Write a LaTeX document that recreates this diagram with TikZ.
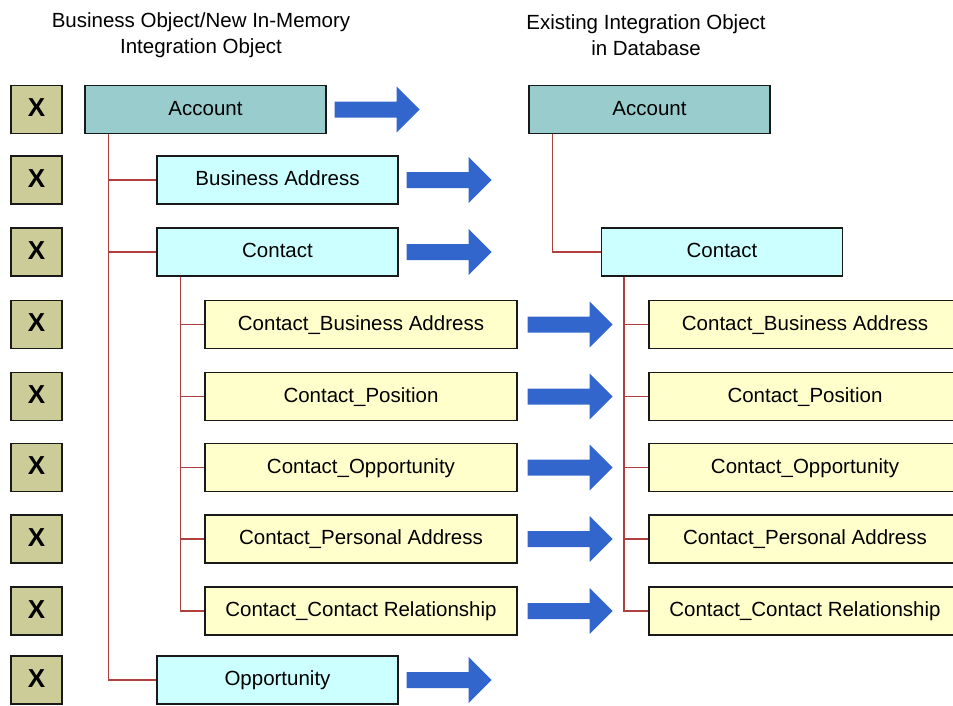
\documentclass[tikz,border=0pt]{standalone}
\usepackage{fontspec}
\setmainfont{Liberation Sans}
\usetikzlibrary{calc}
\definecolor{xfill}{RGB}{204,204,153}
\definecolor{accfill}{RGB}{153,204,204}
\definecolor{cyanfill}{RGB}{204,255,255}
\definecolor{yelfill}{RGB}{255,255,204}
\definecolor{arrblue}{RGB}{51,102,204}
\definecolor{treered}{RGB}{176,64,64}
\newcommand\bigarrow[2]{\fill[arrblue] ($(#1.east)+(#2,-8)$) -- ++(62,0) -- ++(0,-15) -- ++(23,23) -- ++(-23,23) -- ++(0,-15) -- ++(-62,0) -- cycle;}
\begin{document}
\begin{tikzpicture}[x=1pt,y=-1pt,
 box/.style={draw=black!90, line width=1.4pt, minimum height=48pt, inner sep=0pt, text height=16pt, text depth=5pt, font=\fontsize{20.5}{24}\selectfont},
 acc/.style={box, fill=accfill, minimum width=241pt},
 mid/.style={box, fill=cyanfill, minimum width=241pt},
 leaf/.style={box, fill=yelfill, minimum width=312pt},
 xbox/.style={box, fill=xfill, minimum width=51pt, minimum height=48pt, text height=18pt, text depth=4pt, font=\fontsize{26}{26}\selectfont\bfseries},
 tree/.style={draw=treered, line width=1.5pt},
 title/.style={align=center, font=\fontsize{20.5}{26}\selectfont}
]
\useasboundingbox (0,0) rectangle (953,705);

\node[title] (t1) at (201,35) {Business Object/New In-Memory\\Integration Object};
\node[title] (t2) at (646,35) {Existing Integration Object\\in Database};

% X boxes
\foreach \y [count=\i] in {109.5,180,252,324.5,396.5,467.5,539,611,680}
  {\node[xbox] (x\i) at (36.5,\y) {X};}

% left tree
\node[acc] (accL) at (205.5,109.5) {Account};
\node[mid] (baL) at (277.5,180) {Business Address};
\node[mid] (conL) at (277.5,252) {Contact};
\node[leaf] (cbaL) at (361,324.5) {Contact\_Business Address};
\node[leaf] (cpoL) at (361,396.5) {Contact\_Position};
\node[leaf] (copL) at (361,467.5) {Contact\_Opportunity};
\node[leaf] (cpaL) at (361,539) {Contact\_Personal Address};
\node[leaf] (ccrL) at (361,611) {Contact\_Contact Relationship};
\node[mid] (oppL) at (277.5,680) {Opportunity};

% right tree
\node[acc] (accR) at (649.5,109.5) {Account};
\node[mid] (conR) at (722,252) {Contact};
\node[leaf] (cbaR) at (805,324.5) {Contact\_Business Address};
\node[leaf] (cpoR) at (805,396.5) {Contact\_Position};
\node[leaf] (copR) at (805,467.5) {Contact\_Opportunity};
\node[leaf] (cpaR) at (805,539) {Contact\_Personal Address};
\node[leaf] (ccrR) at (805,611) {Contact\_Contact Relationship};

% tree connectors
\draw[tree] ($(accL.south west)+(24,0)$) |- (oppL.west);
\draw[tree] ($(accL.south west)+(24,0)$) |- (baL.west);
\draw[tree] ($(accL.south west)+(24,0)$) |- (conL.west);
\foreach \n in {cbaL,cpoL,copL,cpaL,ccrL}
  {\draw[tree] ($(conL.south west)+(24,0)$) |- (\n.west);}
\draw[tree] ($(accR.south west)+(24,0)$) |- (conR.west);
\foreach \n in {cbaR,cpoR,copR,cpaR,ccrR}
  {\draw[tree] ($(conR.south west)+(23,0)$) |- (\n.west);}

% block arrows
\bigarrow{accL}{8}
\bigarrow{baL}{8}
\bigarrow{conL}{8}
\bigarrow{oppL}{8}
\foreach \n in {cbaL,cpoL,copL,cpaL,ccrL}
  {\bigarrow{\n}{10}}
\end{tikzpicture}
\end{document}
